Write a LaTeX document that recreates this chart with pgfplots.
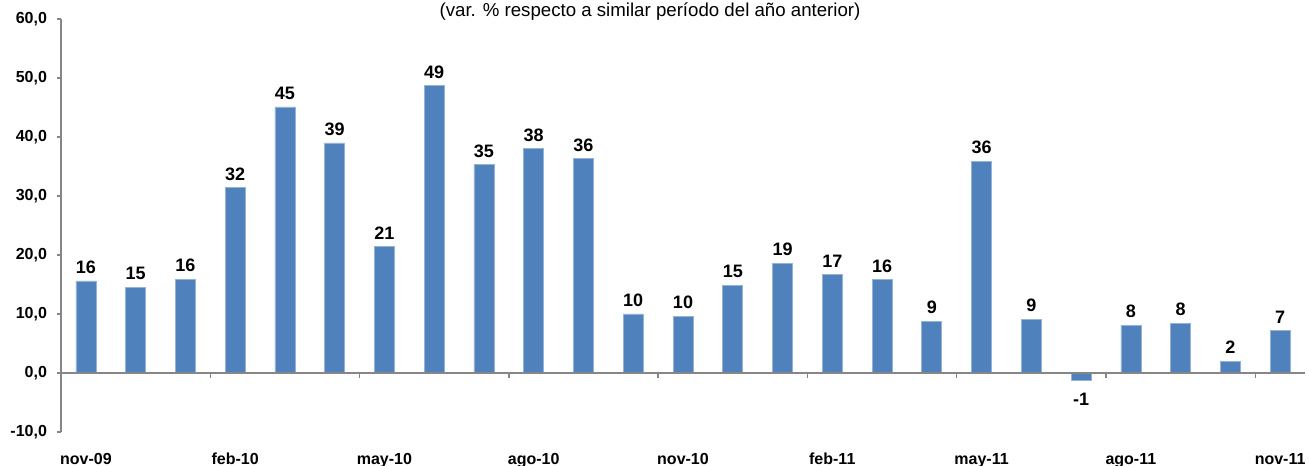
\documentclass[border=0pt]{standalone}
\usepackage{fontspec}
\setmainfont{Liberation Sans}
\usepackage{pgfplots}
\pgfplotsset{compat=1.18}
\usepackage{pgfplotstable}
\definecolor{barblue}{HTML}{4F81BD}
\definecolor{axgray}{HTML}{868686}

\pgfplotstableread{
x y lab
0 15.6 16
1 14.5 15
2 15.9 16
3 31.4 32
4 45.1 45
5 39.0 39
6 21.4 21
7 48.7 49
8 35.3 35
9 38.0 38
10 36.3 36
11 10.0 10
12 9.6 10
13 14.9 15
14 18.6 19
15 16.7 17
16 15.8 16
17 8.8 9
18 35.9 36
19 9.1 9
21 8.1 8
22 8.4 8
23 2.0 2
24 7.2 7
}\datapos

\pgfplotstableread{
x y lab
20 -1.3 -1
}\dataneg

\begin{document}
\begin{tikzpicture}
\begin{axis}[
 scale only axis, width=933pt, height=309.75pt,
 xmin=-0.5, xmax=24.5, ymin=-10, ymax=60,
 axis y line*=left, axis x line*=bottom,
 x axis line style={draw=none},
 y axis line style={axgray, line width=1.2pt},
 xtick={0,3,...,24},
 xticklabels={nov-09,feb-10,may-10,ago-10,nov-10,feb-11,may-11,ago-11,nov-11},
 xtick style={draw=none},
 xticklabel style={font=\bfseries\fontsize{12}{14}\selectfont, anchor=base, yshift=-21.5pt},
 ytick={-10,0,10,20,30,40,50,60},
 yticklabels={{-10,0},{0,0},{10,0},{20,0},{30,0},{40,0},{50,0},{60,0}},
 ytick style={axgray, line width=1pt},
 yticklabel style={font=\bfseries\fontsize{12}{14}\selectfont, xshift=-4pt},
 tick align=outside, major tick length=3pt,
 ybar, bar width=15pt, bar shift=0pt,
 nodes near coords, point meta=explicit symbolic,
 clip=false,
]
\addplot[fill=barblue, draw=barblue!60!white, line width=0.5pt,
  nodes near coords style={font=\bfseries\fontsize{13.5}{15}\selectfont, black, anchor=south, yshift=2pt}]
  table[x=x,y=y,meta=lab]{\datapos};
\addplot[fill=barblue, draw=barblue!60!white, line width=0.5pt,
  nodes near coords style={font=\bfseries\fontsize{13.5}{15}\selectfont, black, anchor=north, yshift=-5.5pt}]
  table[x=x,y=y,meta=lab]{\dataneg};
\draw[axgray, line width=1.2pt] (axis cs:-0.5,0) -- (axis cs:24.5,0);
\pgfplotsinvokeforeach{2.5,5.5,8.5,11.5,14.5,17.5,20.5,23.5}{\draw[axgray,line width=1pt] (axis cs:#1,0) -- ([yshift=-4pt]axis cs:#1,0);}
\node[font=\fontsize{14}{16}\selectfont, anchor=base] at (rel axis cs:0.4735,1) [yshift=1.5pt] {(var. \% respecto a similar período del año anterior)};
\end{axis}
\pgfresetboundingbox
\path[use as bounding box] ([xshift=-45.75pt,yshift=-25.5pt]current axis.south west) rectangle ([xshift=3pt,yshift=14.25pt]current axis.north east);
\end{tikzpicture}
\end{document}
